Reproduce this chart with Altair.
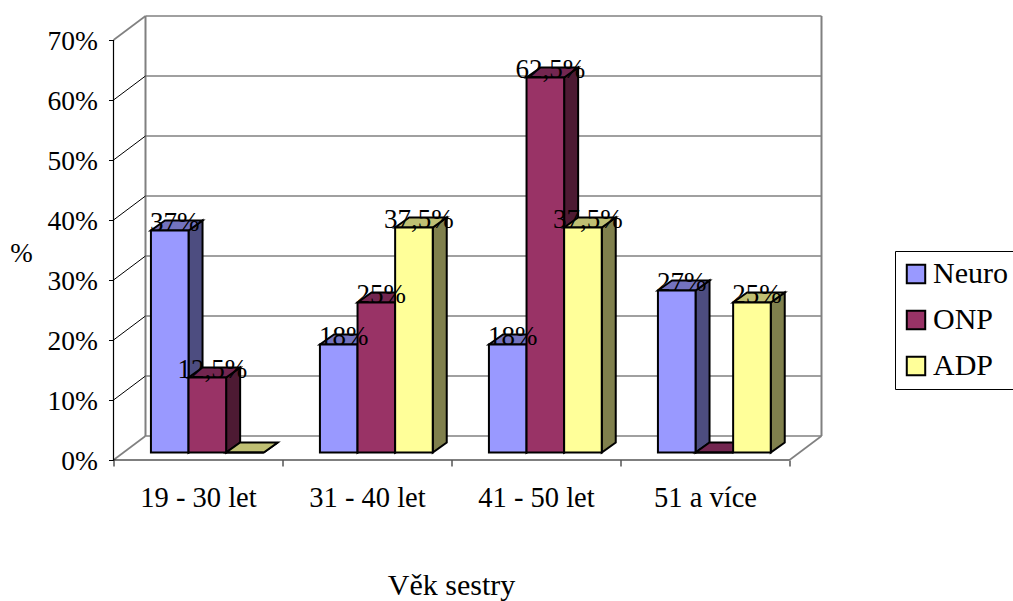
import altair as alt
import pandas as pd

categories = ["19 - 30 let", "31 - 40 let", "41 - 50 let", "51 a více"]
series = ["Neuro", "ONP", "ADP"]
neuro = [37, 18, 18, 27]
onp = [12.5, 25, 62.5, 0]
adp = [0, 37.5, 37.5, 25]
y_ticks = [0, 10, 20, 30, 40, 50, 60, 70]

front_colors = ["#9999FF", "#993366", "#FFFF99"]
side_colors = ["#4D4D80", "#4D1A33", "#80804D"]
top_colors = ["#7373BF", "#732650", "#BFBF73"]

# Oblique projection: depth is expressed in axis units.
WALL_DX = 32 / 169
WALL_DY = 4.0
BAR_DX = 14 / 169
BAR_DY = 10 / 6
BAR_BASE = 1.25
BAR_START = 0.2215
BAR_W = 0.2225
FONT = "Liberation Serif"

x_scale = alt.Scale(domain=[0, 4 + WALL_DX], nice=False, zero=False)
y_scale = alt.Scale(domain=[0, 70 + WALL_DY], nice=False, zero=False)

rows = []
for k, (name, values) in enumerate(zip(series, [neuro, onp, adp])):
    for c, v in enumerate(values):
        left = c + BAR_START + k * BAR_W
        rows.append(dict(series=name, group=c, v=v, left=left, right=left + BAR_W,
                         bottom=BAR_BASE, top=BAR_BASE + v))
bars = pd.DataFrame(rows)


def side_points(df):
    out = []
    for r in df.to_dict("records"):
        out.append(dict(group=r["group"], x=r["right"], y=r["top"], y2=r["bottom"]))
        out.append(dict(group=r["group"], x=r["right"] + BAR_DX, y=r["top"] + BAR_DY, y2=r["bottom"] + BAR_DY))
    return pd.DataFrame(out)


def top_points(df):
    out = []
    for r in df.to_dict("records"):
        out.append(dict(group=r["group"], y=r["top"], x=r["left"], x2=r["right"]))
        out.append(dict(group=r["group"], y=r["top"] + BAR_DY, x=r["left"] + BAR_DX, x2=r["right"] + BAR_DX))
    return pd.DataFrame(out)


X = alt.X("x:Q", scale=x_scale, axis=None)
Y = alt.Y("y:Q", scale=y_scale, axis=None)

# Axes live on an invisible layer so ticks and labels use the shared scales.
x_label_expr = "[" + ",".join(f"'{c}'" for c in categories) + ",''][datum.value]"
axis_layer = alt.Chart(pd.DataFrame({"x": [0], "y": [0]})).mark_point(opacity=0).encode(
    x=alt.X("x:Q", scale=x_scale, title="Věk sestry", axis=alt.Axis(
        values=[0, 1, 2, 3, 4], labelExpr=x_label_expr, labelOffset=84.5, labelFont=FONT,
        labelFontSize=28.5, labelColor="black", labelPadding=17, labelOverlap=False, labelFlush=False,
        labelBound=False, tickColor="black", tickSize=6, domain=False, grid=False,
        titleFont=FONT, titleFontSize=30, titleFontWeight="normal", titleColor="black",
        titleX=337.5, titleY=134, titleAnchor="middle", titleBaseline="alphabetic")),
    y=alt.Y("y:Q", scale=y_scale, title="%", axis=alt.Axis(
        values=y_ticks, labelExpr="datum.value + '%'", labelFont=FONT, labelFontSize=27.5,
        labelColor="black", labelPadding=11, labelOffset=1, labelOverlap=False, labelFlush=False,
        labelBound=False, tickColor="black", tickSize=5, domain=False, grid=False,
        titleFont=FONT, titleFontSize=27, titleFontWeight="normal", titleColor="black",
        titleAngle=0, titleX=-92.5, titleY=245, titleAlign="center", titleBaseline="alphabetic")),
)

# Back wall and floor edges.
grid_df = pd.DataFrame([dict(x=WALL_DX, x2=4 + WALL_DX, y=t + WALL_DY) for t in y_ticks])
grid = alt.Chart(grid_df).mark_rule(color="#808080", strokeWidth=1.6).encode(x=X, x2="x2:Q", y=Y)

walls_df = pd.DataFrame([
    dict(x=WALL_DX, y=WALL_DY, y2=70 + WALL_DY),
    dict(x=4 + WALL_DX, y=WALL_DY, y2=70 + WALL_DY),
])
walls = alt.Chart(walls_df).mark_rule(color="#808080", strokeWidth=2).encode(x=X, y=Y, y2="y2:Q")

edges = []
for t in y_ticks:
    edges.append(dict(id=t, tone="wall" if t in (0, 70) else "grid", x=0, y=t))
    edges.append(dict(id=t, tone="wall" if t in (0, 70) else "grid", x=WALL_DX, y=t + WALL_DY))
edges.append(dict(id=100, tone="wall", x=4, y=0))
edges.append(dict(id=100, tone="wall", x=4 + WALL_DX, y=WALL_DY))
edges_df = pd.DataFrame(edges)
diag_grid = alt.Chart(edges_df[edges_df.tone == "grid"]).mark_line(color="black", strokeWidth=1).encode(
    x=X, y=Y, detail="id:N")
diag_wall = alt.Chart(edges_df[edges_df.tone == "wall"]).mark_line(color="#808080", strokeWidth=1.6).encode(
    x=X, y=Y, detail="id:N")

# Front axis lines.
front_v = alt.Chart(pd.DataFrame({"x": [0], "y": [0], "y2": [70]})).mark_rule(color="black", strokeWidth=1.2).encode(
    x=X, y=Y, y2="y2:Q")
front_h = alt.Chart(pd.DataFrame({"x": [0], "x2": [4], "y": [0]})).mark_rule(color="black", strokeWidth=1.2).encode(
    x=X, x2="x2:Q", y=Y)

# Each series: side face, top face, then front face, painted left to right.
bar_layers = []
for k, name in enumerate(series):
    sub = bars[bars.series == name]
    side = alt.Chart(side_points(sub)).mark_area(
        orient="vertical", fill=side_colors[k], stroke="black", strokeWidth=2, opacity=1
    ).encode(x=X, y=alt.Y("y:Q", scale=y_scale, axis=None, stack=None), y2="y2:Q", detail="group:N")
    top = alt.Chart(top_points(sub)).mark_area(
        orient="horizontal", fill=top_colors[k], stroke="black", strokeWidth=2, opacity=1
    ).encode(x=alt.X("x:Q", scale=x_scale, axis=None, stack=None), x2="x2:Q", y=Y, detail="group:N")
    front = alt.Chart(sub).mark_rect(stroke="black", strokeWidth=2).encode(
        x=alt.X("left:Q", scale=x_scale, axis=None),
        x2="right:Q",
        y=alt.Y("bottom:Q", scale=y_scale, axis=None),
        y2="top:Q",
        fill=alt.Fill("series:N", scale=alt.Scale(domain=series, range=front_colors), legend=alt.Legend(
            title=None, orient="none", legendX=781.5, legendY=235, symbolType="square", symbolSize=340,
            symbolStrokeColor="black", symbolStrokeWidth=2, symbolOpacity=1, symbolOffset=-2,
            labelFont=FONT, labelFontSize=30, labelColor="black", labelLimit=200, rowPadding=16,
            padding=8, strokeColor="black", fillColor="white", labelOffset=2)),
    )
    bar_layers += [side, top, front]

# Value labels sit on the bar tops; empty bars get none.
labelled = bars[bars.v > 0].copy()
labelled["text"] = [f"{v:g}%".replace(".", ",") for v in labelled.v]
labelled["mid"] = (labelled.left + labelled.right) / 2 + 5 / 169
value_labels = alt.Chart(labelled).mark_text(
    font=FONT, fontSize=27, color="black", align="center", baseline="alphabetic"
).encode(x=alt.X("mid:Q", scale=x_scale, axis=None), y=alt.Y("top:Q", scale=y_scale, axis=None), text="text:N")

chart = alt.layer(
    axis_layer, grid, walls, diag_grid, diag_wall, front_v, front_h, *bar_layers, value_labels
).resolve_scale(fill="shared").resolve_axis(x="independent", y="independent").properties(
    width=708, height=444, autosize=alt.AutoSizeParams(type="none"),
    padding={"left": 113.5, "top": 16, "right": 191.5, "bottom": 141},
    background="white",
).configure_view(stroke=None)

chart.save("out.html", embed_options={"renderer": "svg", "actions": False})
